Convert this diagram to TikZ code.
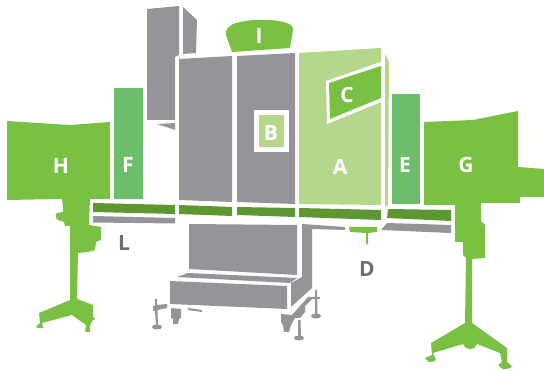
\documentclass[tikz,border=0pt]{standalone}
\usepackage{fontspec}
\setmainfont{Open Sans}
\definecolor{lime}{HTML}{7AC143}
\definecolor{mint}{HTML}{6DBE6B}
\definecolor{pale}{HTML}{B5D78C}
\definecolor{moss}{HTML}{5E9732}
\definecolor{steel}{HTML}{939598}
\definecolor{ink}{HTML}{6D6E71}
\tikzset{
  lab/.style={font=\fontsize{21}{21}\selectfont\bfseries,text=white,inner sep=0pt},
  labd/.style={lab,text=ink},
  g/.style={fill=steel,draw=none},
  lm/.style={fill=lime,draw=none},
  mi/.style={fill=mint,draw=none},
  pl/.style={fill=pale,draw=none},
  mo/.style={fill=moss,draw=none}
}
\begin{document}
\begin{tikzpicture}[x=1pt,y=-1pt]
\useasboundingbox (0,0) rectangle (544,371);
% chimney
\fill[g] (147,9) -- (179,6) -- (179,55) -- (175,57) -- (175,120) -- (147,120) -- cycle;
\fill[g] (183,7) -- (197,20) -- (196,53) -- (183,54) -- cycle;
\fill[g] (157,124) -- (175,123) -- (175,130) -- cycle;
% columns
\fill[g] (179,59) -- (232,56) -- (232,202) -- (179,200) -- cycle;
\fill[g] (237,56) -- (295,53) -- (295,204) -- (237,202) -- cycle;
\fill[pl] (299,53) -- (381,48) -- (381,205) -- (299,204) -- cycle;
\fill[pl] (385,54) -- (389,62) -- (388,205) -- (385,207) -- cycle;
% I
\fill[lm] (232,52) -- (226,35) .. controls (225,30) and (228,27) .. (233,24)
  .. controls (250,18) and (275,19) .. (287,23) .. controls (292,25) and (294,28) .. (293,31)
  -- (290,48) -- cycle;
% B
\fill[white] (254,110) rectangle (289,152);
\fill[pl] (259,115) rectangle (284,147);
% C
\fill[white] (326,81) -- (381,62) -- (381,102) -- (327,124) -- cycle;
\fill[lm] (329,83) -- (381,66) -- (381,98) -- (330,119) -- cycle;
% F E
\fill[mi] (114,88) -- (143,88) -- (143,199) -- (114,199) -- cycle;
\fill[mi] (392,94) -- (420,94) -- (420,204) -- (392,204) -- cycle;
% H
\fill[lm] (7,121) -- (70,125) -- (110,122) -- (110,199) -- (90,199) -- (89,225) -- (101,227) -- (101,240) -- (96,242) -- (95,250) -- (88,252) -- (78,253)
  -- (77,299) -- (93,305) -- (93,317) -- (95,319) -- (92,321) -- (90,326) -- (90,332) .. controls (88,333) and (86,332) .. (85,331) -- (86,325) -- (72,315)
  -- (42,323) -- (43,328) .. controls (40,329) and (37,328) .. (36,327) -- (40,323) -- (39,313) -- (70,300) -- (70,226) -- (65,226) -- (64,222) -- (58,220)
  .. controls (55,218) and (55,214) .. (57,213) -- (63,212) -- (63,207) -- (62,199) -- (7,200) -- cycle;
% G
\fill[lm] (424,122) -- (473,120) -- (518,111) -- (518,167) -- (544,169) -- (544,197) -- (520,197) -- (520,203) -- (481,203) -- (481,221) -- (485,225) -- (485,258) -- (472,259)
  -- (472,323) -- (507,348) -- (507,362) .. controls (510,364) and (512,366) .. (512,367) .. controls (509,369) and (505,369) .. (503,369)
  .. controls (501,368) and (499,366) .. (498,365) -- (502,362) -- (500,353) -- (477,344) .. controls (476,347) and (474,349) .. (470,349)
  .. controls (467,349) and (465,348) .. (463,344) -- (433,353) -- (436,360) .. controls (434,362) and (431,362) .. (429,362)
  .. controls (427,361) and (426,359) .. (425,358) -- (432,355) -- (431,343) -- (465,323) -- (466,258) -- (463,255) -- (463,242) -- (455,242) -- (455,205) -- (424,205) -- cycle;
% belt strips
\fill[mo] (93,203) -- (175,205) -- (175,214) -- (93,212) -- cycle;
\fill[mo] (179,205) -- (232,207) -- (232,216) -- (179,214) -- cycle;
\fill[mo] (237,207) -- (295,208) -- (295,217) -- (237,215) -- cycle;
\fill[mo] (299,208) -- (381,210) -- (381,220) -- (299,217) -- cycle;
\fill[mo] (388,209) -- (451,210) -- (451,221) -- (387,218) -- cycle;
% rails
\fill[g] (93,216) -- (175,218) -- (175,223.5) -- (93,222.5) -- cycle;
\fill[g] (387,223) -- (451,225) -- (451,233) -- (381,230) -- cycle;
\fill[g] (302,224) -- (345,227) -- (345,230) -- (312,229) -- (312,288) -- (291,307) -- (291,283) -- (302,277) -- cycle;
% stand
\fill[g] (189,224) -- (297,225) -- (297,275) -- (189,269) -- cycle;
\fill[g] (177,277) -- (188,273) -- (297,278) -- (290,283) -- cycle;
\fill[g] (170,281) -- (287,286) -- (287,309) -- (170,304) -- cycle;
% D
\fill[lm] (349,227) -- (377,227) -- (377,232) -- (368,233) -- (368,244) -- (366,244) -- (366,233) -- (350,232) -- cycle;
% feet
\fill[g] (155,299) -- (157,299) -- (157,305) -- (167,304) -- (167,308) -- (157.5,310) -- (158,325) -- (156,325) -- (155,311) -- (153,311) -- (153,306) -- (155,306) -- cycle;
\fill[g] (157,327) ellipse (5 and 2.5);
\fill[g] (171,308) -- (181,309) -- (181,318) -- (179,319) -- (178,324) -- (173,324) -- (173,319) -- (171,318) -- cycle;
\fill[g] (188,308) -- (202,310) -- (202,312) -- (188,310) -- cycle;
\fill[g] (281,314) -- (292,315) -- (308,297) -- (320,297) -- (320,299) -- (312,299) -- (305,306) -- (305,312) -- (300,318) -- (295,318) -- (291,325) -- (289,332) -- (284,332) -- (283,325) -- (281,322) -- cycle;
\fill[g] (298,320) -- (300.5,320) -- (301,337) -- (298,337) -- cycle;
\fill[g] (299,338) ellipse (5 and 2.5);
\fill[g] (315,290) -- (317,290) -- (317.5,315) -- (315,315) -- cycle;
\fill[g] (316,316) ellipse (5 and 2.5);
% labels
\node[lab] (nH) at (61,166) {H};
\node[lab] (nF) at (128,165) {F};
\node[lab] (nI) at (259,36) {I};
\node[lab] (nB) at (271,133) {B};
\node[lab] (nC) at (347,95) {C};
\node[lab] (nA) at (340,167) {A};
\node[lab] (nE) at (405,165) {E};
\node[lab] (nG) at (466,165) {G};
\node[labd] (nL) at (124,243) {L};
\node[labd] (nD) at (367,269) {D};
\end{tikzpicture}
\end{document}
